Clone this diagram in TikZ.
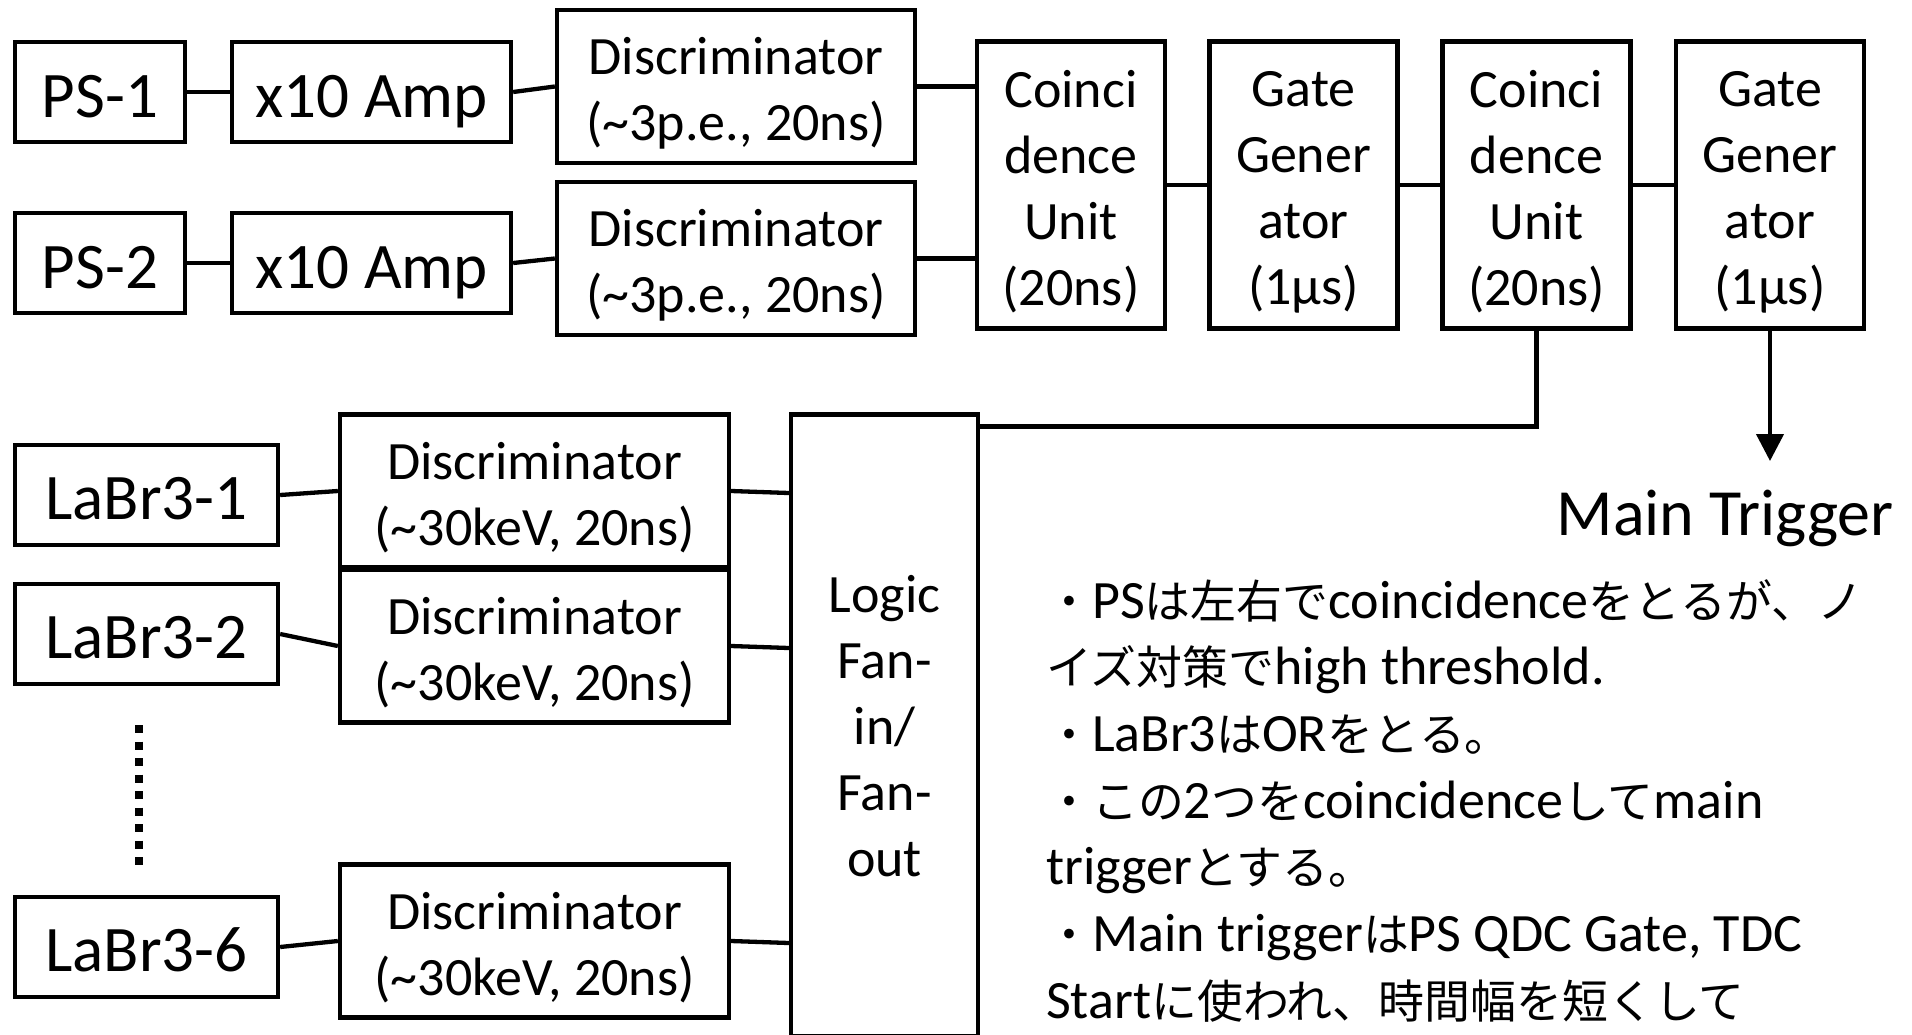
\documentclass[tikz,border=0pt]{standalone}
\usepackage{fontspec}
\setmainfont{Carlito}
\newfontfamily\jpfont[Scale=0.85]{Noto Sans CJK JP}
\newcommand{\J}[1]{{\jpfont #1}}
\newcommand{\pushdn}[1]{\rule{0pt}{\dimexpr\fontcharht\font`D+#1\relax}}
\usetikzlibrary{arrows.meta,calc}
\begin{document}
\begin{tikzpicture}[x=1pt,y=-1pt,
  box/.style={draw, line width=4.3pt, align=center, inner sep=0pt, font=\fontsize{54}{66}\selectfont},
  big/.style={font=\fontsize{65}{78}\selectfont, text depth=0pt},
  wire/.style={line width=4.3pt},
  note/.style={anchor=base west, inner sep=0pt, font=\fontsize{54}{66}\selectfont}]
\useasboundingbox (0,0) rectangle (1912,1034);
\clip (0,0) rectangle (1912,1034);

% PS chain
\node[box,big,minimum width=170,minimum height=100] (ps1) at (100,92) {\pushdn{10pt}PS-1};
\node[box,big,minimum width=170,minimum height=100] (ps2) at (100,263) {\pushdn{10pt}PS-2};
\node[box,big,minimum width=279,minimum height=100] (amp1) at (371.5,92) {\pushdn{10pt}x10 Amp};
\node[box,big,minimum width=279,minimum height=100] (amp2) at (371.5,263) {\pushdn{10pt}x10 Amp};
\node[box,minimum width=358,minimum height=153] (dp1) at (736,86.5) {\pushdn{17pt}Discriminator\\(\textasciitilde3p.e., 20ns)};
\node[box,minimum width=358,minimum height=153] (dp2) at (736,258.5) {\pushdn{17pt}Discriminator\\(\textasciitilde3p.e., 20ns)};
\node[box,minimum width=188,minimum height=287] (co1) at (1071,185) {\pushdn{15pt}Coinci\\dence\\Unit\\(20ns)};
\node[box,minimum width=188,minimum height=287] (gg1) at (1303.5,185) {\pushdn{15pt}Gate\\Gener\\ator\\(1µs)};
\node[box,minimum width=188,minimum height=287] (co2) at (1536.5,185) {\pushdn{15pt}Coinci\\dence\\Unit\\(20ns)};
\node[box,minimum width=188,minimum height=287] (gg2) at (1770,185) {\pushdn{15pt}Gate\\Gener\\ator\\(1µs)};

% LaBr3 chain
\node[box,big,minimum width=263,minimum height=100] (lb1) at (146.5,495) {\pushdn{8pt}LaBr3-1};
\node[box,big,minimum width=263,minimum height=100] (lb2) at (146.5,634) {\pushdn{8pt}LaBr3-2};
\node[box,big,minimum width=263,minimum height=100] (lb6) at (146.5,947) {\pushdn{8pt}LaBr3-6};
\node[box,minimum width=389,minimum height=153] (dl1) at (534.5,491) {\pushdn{15pt}Discriminator\\(\textasciitilde30keV, 20ns)};
\node[box,minimum width=389,minimum height=153] (dl2) at (534.5,646) {\pushdn{15pt}Discriminator\\(\textasciitilde30keV, 20ns)};
\node[box,minimum width=389,minimum height=153] (dl6) at (534.5,941) {\pushdn{15pt}Discriminator\\(\textasciitilde30keV, 20ns)};
\node[box,minimum width=187,minimum height=622] (logic) at (884.5,725.6) {\pushdn{3pt}Logic\\Fan-\\in/\\Fan-\\out};

% Main trigger
\node[anchor=base east, inner sep=0pt, font=\fontsize{66}{79}\selectfont] (mt) at (1894,535) {Main Trigger};
\coordinate (mtin) at (1770,461);

% dotted
\coordinate (dotA) at (139,725);
\coordinate (dotB) at (139,866);
\draw[line width=8pt, dash pattern=on 8pt off 8.5pt] (dotA) -- (dotB);

% wires
\draw[wire] (ps1) -- (amp1);
\draw[wire] (ps2) -- (amp2);
\draw[wire] (amp1.east) -- (dp1.west);
\draw[wire] (amp2.east) -- (dp2.west);
\draw[wire] (dp1.east) -- (dp1.east -| co1.west);
\draw[wire] (dp2.east) -- (dp2.east -| co1.west);
\draw[wire] (co1) -- (gg1);
\draw[wire] (gg1) -- (co2);
\draw[wire] (co2) -- (gg2);
\draw[wire] (co2.south) |- ($(logic.north east)+(0,14)$);
\draw[wire,-{Triangle[length=27pt,width=27pt]}] (gg2.south) -- (mtin);

\draw[wire] (lb1.east) -- (dl1.west);
\draw[wire] (lb2.east) -- (dl2.west);
\draw[wire] (lb6.east) -- (dl6.west);
\draw[wire] (dl1.east) -- ($(dl1.east -| logic.west)+(0,2)$);
\draw[wire] (dl2.east) -- ($(dl2.east -| logic.west)+(0,2)$);
\draw[wire] (dl6.east) -- ($(dl6.east -| logic.west)+(0,2)$);

% notes
\node[note] (t1) at (1046,618) {\J{・}PS\J{は左右で}coincidence\J{をとるが、ノ}};
\node[note] (t2) at (1046,684.7) {\J{イズ対策で}high threshold.};
\node[note] (t3) at (1046,751.4) {\J{・}LaBr3\J{は}OR\J{をとる。}};
\node[note] (t4) at (1046,818.1) {\J{・この}2\J{つを}coincidence\J{して}main};
\node[note] (t5) at (1046,884.8) {trigger\J{とする。}};
\node[note] (t6) at (1046,951.5) {\J{・}Main trigger\J{は}PS QDC Gate, TDC};
\node[note] (t7) at (1046,1018.2) {Start\J{に使われ、時間幅を短くして}};
\end{tikzpicture}
\end{document}
